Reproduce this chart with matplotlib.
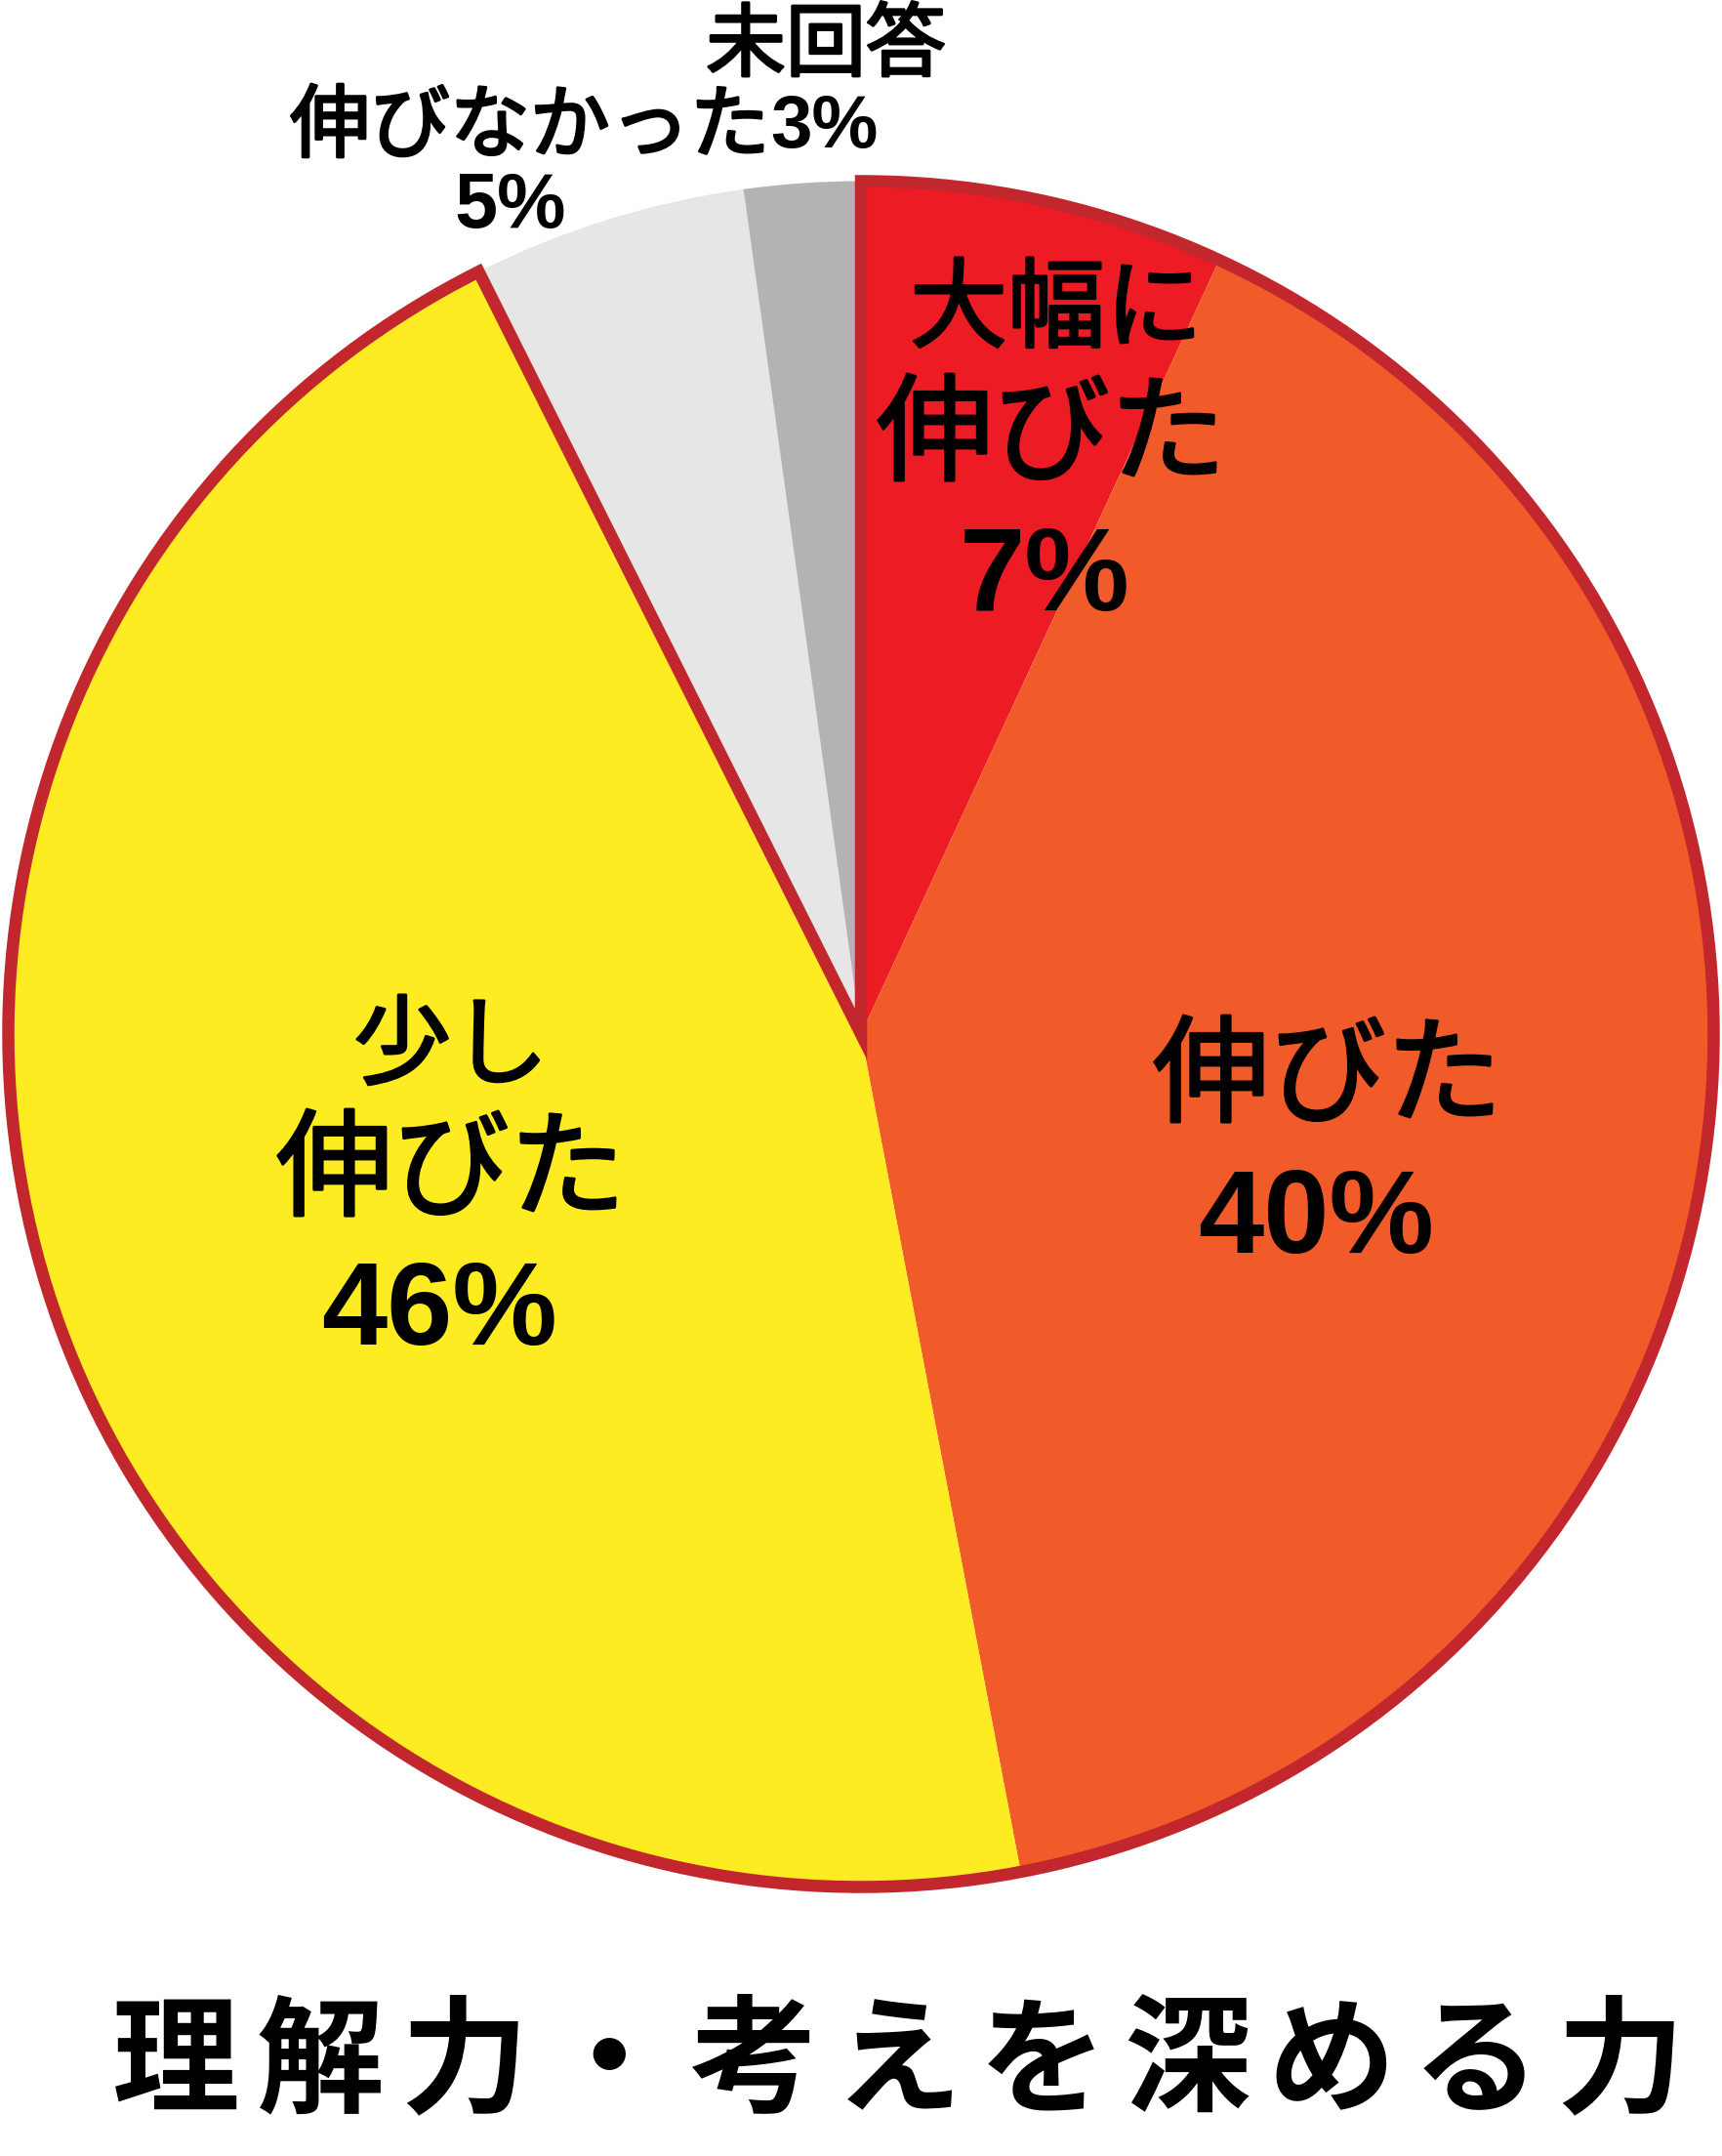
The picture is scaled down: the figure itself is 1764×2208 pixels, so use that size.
import matplotlib.pyplot as plt
import matplotlib.patheffects as pe
from matplotlib.patches import Wedge

# slice data (clockwise from 12 o'clock)
labels = ['大幅に\n伸びた', '伸びた', '少し\n伸びた', '伸びなかった', '未回答']
shares = [6.9, 40.1, 45.6, 5.2, 2.2]
pct_labels = ['7%', '40%', '46%', '5%', '3%']
colors = ['#ED1C24', '#F15A29', '#FCEC21', '#E6E6E6', '#B3B3B3']
title = '理解力・考えを深める力'

W, H = 1764, 2208
CX, CY, R = 882, 1059, 873.5   # pie centre / radius in pixels
JP = ['Noto Sans CJK JP', 'DejaVu Sans']
NUM = ['Liberation Sans', 'DejaVu Sans']

fig = plt.figure(figsize=(W / 100, H / 100), dpi=100)
ax = fig.add_axes([0, 0, 1, 1])

wedges, _ = ax.pie(shares, colors=colors, startangle=90, counterclock=False,
                   radius=1, wedgeprops=dict(linewidth=0))

# dark red outline around the three "grew" slices together
outline = Wedge((0, 0), 1, wedges[2].theta1, wedges[0].theta2,
                fill=False, edgecolor='#C1272D', linewidth=9, joinstyle='miter')
ax.add_patch(outline)

ax.set_aspect('auto')
ax.set_xlim(-CX / R, (W - CX) / R)
ax.set_ylim((CY - H) / R, CY / R)
ax.axis('off')

# a thin black stroke makes the regular CJK face look a bit heavier
heavier = [pe.withStroke(linewidth=2, foreground='black')]


def put(px, py, s, size, family=JP, weight='normal', ha='center', fx=None):
    py += 8
    fig.text(px / W, 1 - py / H, s, fontsize=size, family=family,
             weight=weight, ha=ha, va='center', color='black',
             path_effects=fx)


# 大幅に伸びた 7%
top, bottom = labels[0].split('\n')
put(1082, 311, top, 72, fx=heavier)
put(1077, 441, bottom, 86, fx=heavier)
put(1070, 585, pct_labels[0], 87, NUM, 'bold')

# 伸びた 40%
put(1360, 1098, labels[1], 86, fx=heavier)
put(1348, 1243, pct_labels[1], 87, NUM, 'bold')

# 少し伸びた 46%
top, bottom = labels[2].split('\n')
put(462, 1066, top, 72, fx=heavier)
put(462, 1194, bottom, 86, fx=heavier)
put(450, 1338, pct_labels[2], 87, NUM, 'bold')

# 伸びなかった 5% / 未回答 3%
put(789, 123, labels[3], 59, ha='right', fx=heavier)
put(789, 123, pct_labels[4], 55, NUM, 'bold', ha='left')
put(523, 205, pct_labels[3], 57, NUM, 'bold')
put(846, 40, labels[4], 59, fx=heavier)

# title, spread out letter by letter
for i, ch in enumerate(title):
    put(180 + i * 148, 2107, ch, 94, weight='bold')

fig.savefig('out.png', dpi=100)
